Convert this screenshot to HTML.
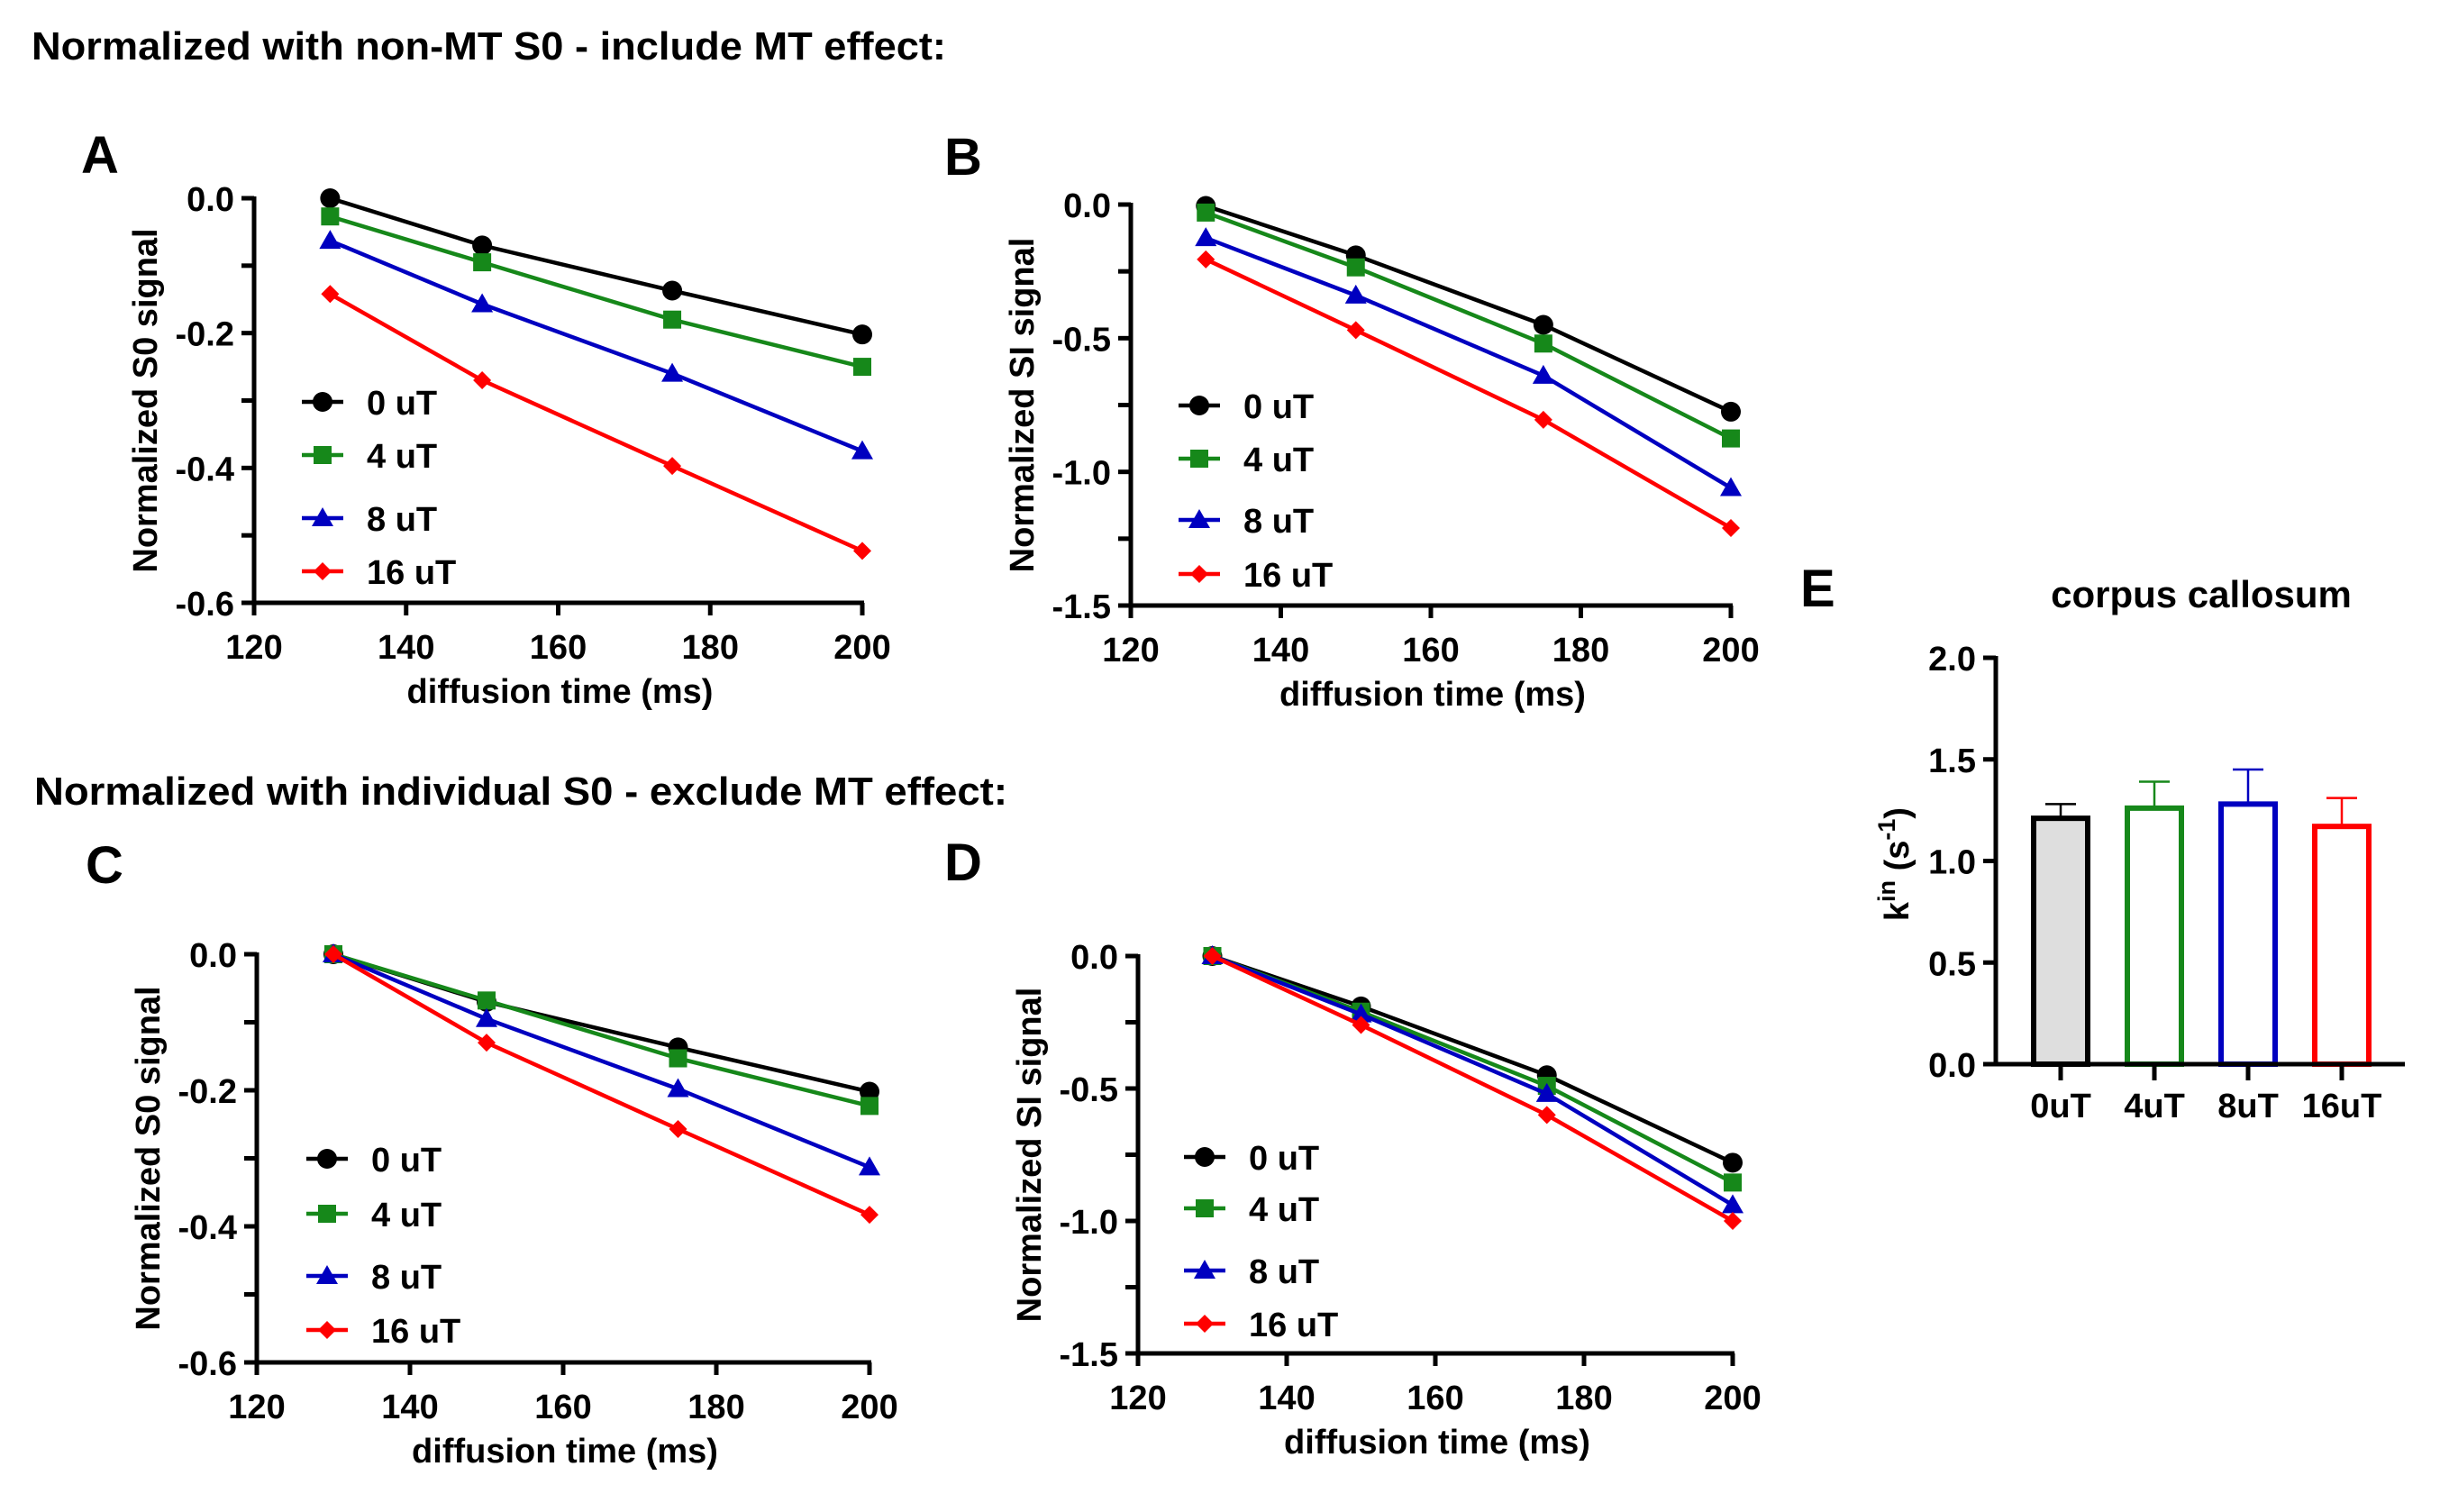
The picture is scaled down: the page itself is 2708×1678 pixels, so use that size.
<!DOCTYPE html>
<html><head><meta charset="utf-8"><style>
html,body{margin:0;padding:0;background:#fff;}
svg{display:block;font-family:"Liberation Sans",Arial,sans-serif;font-weight:bold;}
</style></head><body>
<svg id="fig" width="2708" height="1678" viewBox="0 0 2708 1678" xmlns="http://www.w3.org/2000/svg">
<rect width="2708" height="1678" fill="#fff"/>
<text x="35" y="66" font-size="44" textLength="1015" lengthAdjust="spacingAndGlyphs">Normalized with non-MT S0 - include MT effect:</text>
<text x="38" y="893" font-size="44" textLength="1080" lengthAdjust="spacingAndGlyphs">Normalized with individual S0 - exclude MT effect:</text>
</svg>
<script>
const xTimes = [130, 150, 175, 200];
const seriesNames = ['0 uT', '4 uT', '8 uT', '16 uT'];
const aS0 = [0, -0.07, -0.137, -0.202];
const aS4 = [-0.027, -0.095, -0.18, -0.25];
const aS8 = [-0.063, -0.157, -0.26, -0.375];
const aS16 = [-0.142, -0.27, -0.397, -0.523];
const bS0 = [-0.005, -0.19, -0.45, -0.775];
const bS4 = [-0.03, -0.235, -0.52, -0.875];
const bS8 = [-0.125, -0.34, -0.64, -1.06];
const bS16 = [-0.205, -0.47, -0.805, -1.21];
const cS0 = [0, -0.07, -0.137, -0.202];
const cS4 = [0, -0.068, -0.153, -0.223];
const cS8 = [0, -0.095, -0.198, -0.313];
const cS16 = [0, -0.13, -0.257, -0.383];
const dS0 = [0, -0.19, -0.45, -0.78];
const dS4 = [0, -0.21, -0.49, -0.855];
const dS8 = [0, -0.22, -0.52, -0.94];
const dS16 = [0, -0.26, -0.6, -1.0];
const xTickLabels = [120, 140, 160, 180, 200];
const yTicksS0 = [0, -0.2, -0.4, -0.6];
const yTicksSI = [0, -0.5, -1.0, -1.5];
const barCategories = ['0uT', '4uT', '8uT', '16uT'];
const barMeans = [1.21, 1.26, 1.28, 1.17];
const barErrTop = [1.28, 1.39, 1.45, 1.31];
const barTicks = [0, 0.5, 1.0, 1.5, 2.0];

const NS = 'http://www.w3.org/2000/svg';
const svg = document.getElementById('fig');
const colors = ['#000000', '#16881a', '#0000c0', '#ff0000'];
const shapes = ['circle', 'square', 'triangle', 'diamond'];
function mk(tag, attrs, parent) {
  const e = document.createElementNS(NS, tag);
  for (const k in attrs) e.setAttribute(k, attrs[k]);
  (parent || svg).appendChild(e);
  return e;
}
function marker(g, shape, cx, cy, col, s) {
  let m;
  if (shape === 'circle') m = mk('circle', {cx: cx, cy: cy, r: s * 0.55, fill: col}, g);
  else if (shape === 'square') m = mk('rect', {x: cx - s * 0.5, y: cy - s * 0.5, width: s, height: s, fill: col}, g);
  else if (shape === 'triangle') m = mk('polygon', {points: `${cx},${cy - s * 0.6} ${cx - s * 0.6},${cy + s * 0.45} ${cx + s * 0.6},${cy + s * 0.45}`, fill: col}, g);
  else m = mk('polygon', {points: `${cx},${cy - s * 0.5} ${cx + s * 0.5},${cy} ${cx},${cy + s * 0.5} ${cx - s * 0.5},${cy}`, fill: col}, g);
  return m;
}
function txt(g, x, y, s, size, anchor, extra) {
  const t = mk('text', Object.assign({x: x, y: y, 'font-size': size, 'text-anchor': anchor || 'start'}, extra || {}), g);
  t.textContent = s;
  return t;
}

function linePanel(cfg) {
  const g = mk('g', {});
  
  
  const xs = v => cfg.x0 + (v - 120) / 80 * (cfg.x1 - cfg.x0);
  const ys = v => cfg.y0 + (v - cfg.ymax) / (cfg.ymin - cfg.ymax) * (cfg.y1 - cfg.y0);
  const lab = txt(g, cfg.lx, cfg.ly, cfg.letter, 58, 'start');
  
  
  const ax = mk('g', {stroke: '#000', 'stroke-width': 5, fill: 'none'}, g);
  
  
  mk('line', {x1: cfg.x0, y1: cfg.y0 - 2, x2: cfg.x0, y2: cfg.y1 + 2}, ax);
  mk('line', {x1: cfg.x0 - 14, y1: cfg.y1, x2: cfg.x1 + 2, y2: cfg.y1}, ax);
  for (let v = cfg.ymax; v >= cfg.ymin - 1e-9; v -= cfg.minor) mk('line', {x1: cfg.x0 - 14, y1: ys(v), x2: cfg.x0, y2: ys(v)}, ax);
  xTickLabels.forEach(v => mk('line', {x1: xs(v), y1: cfg.y1, x2: xs(v), y2: cfg.y1 + 14}, ax));
  cfg.yTicks.forEach(v => {
    const t = txt(g, cfg.x0 - 22, ys(v) + 14, v.toFixed(1), 38, 'end');
    
    
  });
  xTickLabels.forEach(v => {
    const t = txt(g, xs(v), cfg.y1 + 62, String(v), 38, 'middle');
    
    
  });
  const xt = txt(g, (cfg.x0 + cfg.x1) / 2 + 2, cfg.y1 + 111, 'diffusion time (ms)', 38, 'middle');
  
  
  const ycx = cfg.x0 - 108, ycy = (cfg.y0 + cfg.y1) / 2;
  const yt = txt(g, ycx, ycy, cfg.ytitle, 38, 'middle', {transform: `rotate(-90 ${ycx} ${ycy})`});
  
  
  cfg.series.forEach((arr, i) => {
    const sg = mk('g', {}, g);
    
    
    const pts = arr.map((v, j) => `${xs(xTimes[j])},${ys(v)}`).join(' ');
    mk('polyline', {points: pts, fill: 'none', stroke: colors[i], 'stroke-width': 4.5}, sg);
    arr.forEach((v, j) => {
      const m = marker(sg, shapes[i], xs(xTimes[j]), ys(v), colors[i], 20);
      
      
    });
    const le = mk('g', {}, g);
    
    
    const ly = cfg.legY[i];
    mk('line', {x1: cfg.legX, y1: ly, x2: cfg.legX + 46, y2: ly, stroke: colors[i], 'stroke-width': 4.5}, le);
    marker(le, shapes[i], cfg.legX + 23, ly, colors[i], 20);
    txt(le, cfg.legX + 72, ly + 14, seriesNames[i], 38, 'start');
  });
}

linePanel({name: 'panel-a-chart', letter: 'A', lx: 90, ly: 192, x0: 282, x1: 957, y0: 220, y1: 669, ymax: 0, ymin: -0.6, minor: 0.1, yTicks: yTicksS0, ytitle: 'Normalized S0 signal', series: [aS0, aS4, aS8, aS16], legX: 335, legY: [446, 505, 575, 634]});
linePanel({name: 'panel-b-chart', letter: 'B', lx: 1048, ly: 194, x0: 1255, x1: 1921, y0: 227, y1: 672, ymax: 0, ymin: -1.5, minor: 0.25, yTicks: yTicksSI, ytitle: 'Normalized SI signal', series: [bS0, bS4, bS8, bS16], legX: 1308, legY: [450, 509, 577, 637]});
linePanel({name: 'panel-c-chart', letter: 'C', lx: 95, ly: 980, x0: 285, x1: 965, y0: 1059, y1: 1512, ymax: 0, ymin: -0.6, minor: 0.1, yTicks: yTicksS0, ytitle: 'Normalized S0 signal', series: [cS0, cS4, cS8, cS16], legX: 340, legY: [1286, 1347, 1416, 1476]});
linePanel({name: 'panel-d-chart', letter: 'D', lx: 1048, ly: 977, x0: 1263, x1: 1923, y0: 1061, y1: 1502, ymax: 0, ymin: -1.5, minor: 0.25, yTicks: yTicksSI, ytitle: 'Normalized SI signal', series: [dS0, dS4, dS8, dS16], legX: 1314, legY: [1284, 1341, 1410, 1469]});

(function () {
  const g = mk('g', {});
  
  
  const x0 = 2215, x1 = 2669, y0 = 730, y1 = 1181;
  const ys = v => y1 - v / 2 * (y1 - y0);
  const xc = i => 2287 + i * 104;
  const lab = txt(g, 1998, 673, 'E', 58, 'start');
  
  
  const tt = txt(g, 2443, 674, 'corpus callosum', 42, 'middle');
  
  
  barMeans.forEach((v, i) => {
    const bg = mk('g', {}, g);
    
    
    const cx = xc(i);
    mk('line', {x1: cx, y1: ys(v), x2: cx, y2: ys(barErrTop[i]), stroke: colors[i], 'stroke-width': 2.5}, bg);
    mk('line', {x1: cx - 17, y1: ys(barErrTop[i]), x2: cx + 17, y2: ys(barErrTop[i]), stroke: colors[i], 'stroke-width': 2.5}, bg);
    mk('rect', {x: cx - 30, y: ys(v), width: 60, height: y1 - ys(v), fill: i === 0 ? '#dedede' : '#fff', stroke: colors[i], 'stroke-width': 6}, bg);
    const t = txt(g, cx, 1240, barCategories[i], 38, 'middle');
    
    
  });
  const ax = mk('g', {stroke: '#000', 'stroke-width': 5}, g);
  
  
  mk('line', {x1: x0, y1: y0 - 2, x2: x0, y2: y1 + 2}, ax);
  mk('line', {x1: x0 - 14, y1: y1, x2: x1, y2: y1}, ax);
  barTicks.forEach(v => {
    mk('line', {x1: x0 - 14, y1: ys(v), x2: x0, y2: ys(v)}, ax);
    const t = txt(g, x0 - 22, ys(v) + 14, v.toFixed(1), 38, 'end');
    
    
  });
  barCategories.forEach((c, i) => mk('line', {x1: xc(i), y1: y1, x2: xc(i), y2: y1 + 18}, ax));
  const yt = mk('text', {x: 2118, y: 959, 'font-size': 38, 'text-anchor': 'middle', transform: 'rotate(-90 2118 959)'}, g);
  
  
  yt.innerHTML = 'k<tspan font-size="27" dy="-15">in</tspan><tspan dy="15"> (s</tspan><tspan font-size="27" dy="-15">-1</tspan><tspan dy="15">)</tspan>';
})();
</script>
</body></html>
